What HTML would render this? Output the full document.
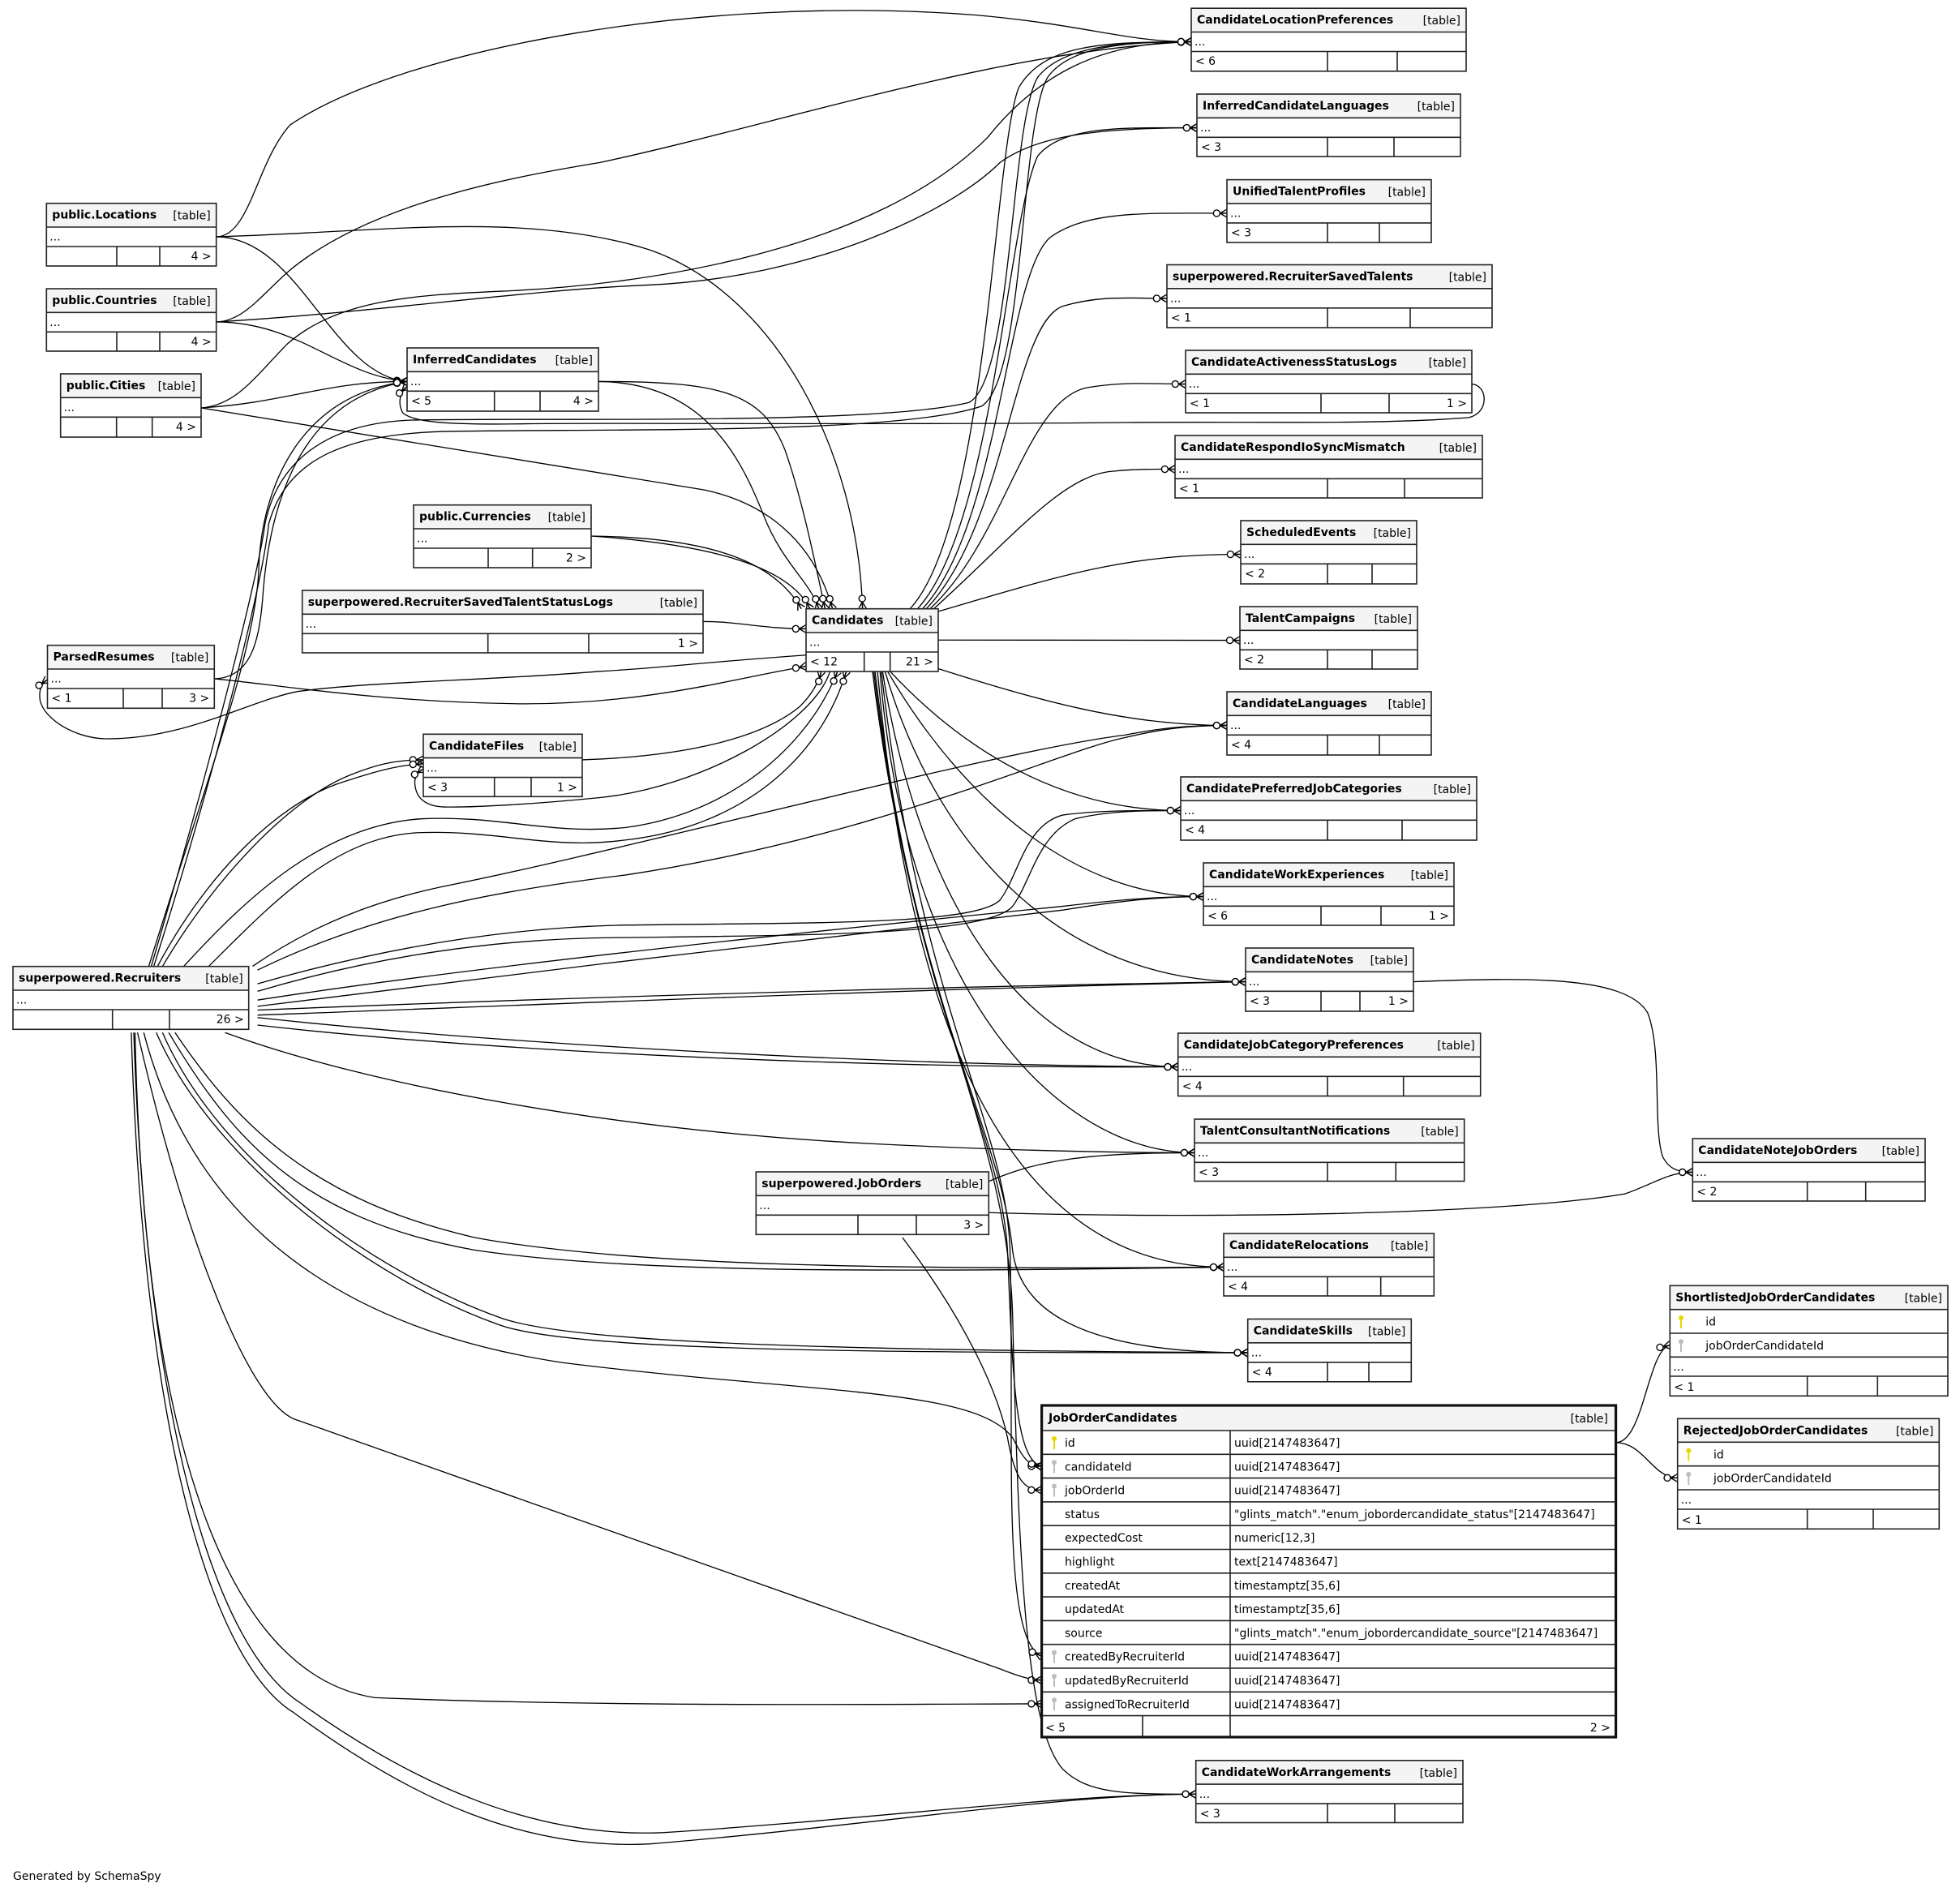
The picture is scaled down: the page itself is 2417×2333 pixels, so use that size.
<!DOCTYPE html>
<html>
<head>
<meta charset="utf-8">
<style>
html,body{margin:0;padding:0;background:#fff;}
svg{display:block;}
text{font-family:"DejaVu Sans","Liberation Sans",sans-serif;font-size:14px;fill:#000;}
.t{font-weight:bold;}
.b{stroke:#222;stroke-width:1.6;fill:none;}
.bb{stroke:#111;stroke-width:3.2;fill:none;}
.h{fill:#f4f4f4;}
.w{fill:#fff;}
.e path{fill:none;stroke:#000;stroke-width:0.85;}
</style>
</head>
<body>
<svg width="2417" height="2333" viewBox="0 0 2417 2333" xmlns="http://www.w3.org/2000/svg">
<defs>
<marker id="cf" markerUnits="userSpaceOnUse" orient="auto" refX="0" refY="0" markerWidth="20" markerHeight="20" overflow="visible">
<path d="M-5.5,0 L0,-3.2 M-5.5,0 L0,3.2 M-5.5,0 L0,0" stroke="#000" stroke-width="0.9" fill="none"/>
<circle cx="-8.2" cy="0" r="2.6" fill="#fff" stroke="#000" stroke-width="0.9"/>
</marker>
</defs>
<rect x="0" y="0" width="2417" height="2333" fill="#fff"/>

<g class="e" transform="scale(1.5415)">
<!-- Locations -->
<path d="M173.2,189.4 C200,189 205,130 232,100 C320,40 560,-5 780,12 C870,20 900,33.4 953,33.4" marker-end="url(#cf)"/>
<path d="M173.2,189.4 C300,186 420,168 520,200 C620,235 686,360 690,487" marker-end="url(#cf)"/>
<path d="M173.2,189.4 C240,190 265,300 325.7,305.2" marker-end="url(#cf)"/>
<!-- Countries -->
<path d="M173.2,257.5 C195,257 210,235 232,216 C300,160 420,140 480,130 C620,100 800,40 953,33.4" marker-end="url(#cf)"/>
<path d="M173.2,257.5 C300,250 420,232 519,228 C650,222 760,170 800,130 C830,108 880,102.2 957.5,102.2" marker-end="url(#cf)"/>
<path d="M173.2,257.5 C240,258 270,300 325.7,305.2" marker-end="url(#cf)"/>
<!-- Cities -->
<path d="M160.9,326.3 C190,324 205,300 230,275 C270,240 330,236 400,233 C520,228 700,200 790,110 C830,60 880,33.4 953,33.4" marker-end="url(#cf)"/>
<path d="M160.9,326.3 C230,322 260,305 325.7,305.2" marker-end="url(#cf)"/>
<path d="M160.9,326.3 L564,392 C610,402 650,430 666,487" marker-end="url(#cf)"/>
<!-- Currencies -->
<path d="M473,428.8 C570,430 620,450 641,487" marker-end="url(#cf)"/>
<path d="M473,428.8 C575,436 632,455 648,487" marker-end="url(#cf)"/>
<!-- InferredCandidates -->
<path d="M478.8,305.2 C560,306 590,360 610,410 C625,450 648,465 655,487" marker-end="url(#cf)"/>
<path d="M478.8,305.2 C580,305 610,315 628,360 C642,400 652,450 660,487" marker-end="url(#cf)"/>
<!-- RSTSL -->
<path d="M562.4,497.2 C590,497 610,503 644.8,503" marker-end="url(#cf)"/>
<!-- ParsedResumes -->
<path d="M171.5,543 C200,542 207,515 210,480 C214,420 232,320 325.7,305.2" marker-end="url(#cf)"/>
<path d="M171.5,543 C210,546 300,562 420,563 C520,563 590,542 644.8,533" marker-end="url(#cf)"/>
<path d="M644.8,524 C560,530 520,535 480,537 C380,545 300,545 239,553 C200,560 150,591 86,591 C60,591 35,575 32,560 C31,552 33,547 38,543.6" marker-end="url(#cf)"/>
<!-- CandidateFiles -->
<path d="M465.8,607.8 C550,605 610,590 640,565 C650,555 655,545 657,537.1" marker-end="url(#cf)"/>
<path d="M664,537.1 C650,580 560,630 480,638 C430,643 380,646 355,645.5 C340,645 333,638 332,628 C331,622 334,618 338.6,615" marker-end="url(#cf)"/>
<!-- Recruiters -->
<path d="M130,773 C170,705 230,640 280,620 C300,612 315,607.8 338.6,607.8" marker-end="url(#cf)"/>
<path d="M126,773 C165,700 220,645 270,627 C300,617 318,612 338.6,611" marker-end="url(#cf)"/>
<path d="M147,773 C200,715 260,660 337,655 C400,652 440,668 500,662 C580,652 645,600 670,537.1" marker-end="url(#cf)"/>
<path d="M167,773 C220,720 270,668 337,666 C400,664 440,680 500,672 C590,662 655,610 677,537.1" marker-end="url(#cf)"/>
<path d="M119,773 C160,640 205,520 207,455 C209,390 240,315 325.7,305.2" marker-end="url(#cf)"/>
<path d="M121,773 C160,640 205,470 212,419 C222,370 260,338 331,336 C450,334 700,340 775,322 C810,305 808,100 830,62 C850,36 900,33.4 953,33.4" marker-end="url(#cf)"/>
<path d="M123,773 C165,640 208,480 215,419 C230,365 280,346 364,345 C500,343 720,347 785,325 C820,305 816,100 838,62 C856,36 905,33.4 953,33.4" marker-end="url(#cf)"/>
<path d="M202,773 C250,740 300,720 360,708 C500,680 800,600 900,588 C930,582 950,580.3 981.5,580.3" marker-end="url(#cf)"/>
<path d="M206,776 C300,730 400,712 500,700 C700,670 850,600 900,590 C930,583 950,580.3 981.5,580.3" marker-end="url(#cf)"/>
<path d="M206,787 C300,760 400,742 500,740 C650,738 780,740 800,720 C815,700 820,660 850,652 C880,648 910,648.4 944.5,648.4" marker-end="url(#cf)"/>
<path d="M206,793 C300,765 400,750 500,750 C650,748 790,748 810,725 C825,705 830,668 860,655 C885,649 910,648.4 944.5,648.4" marker-end="url(#cf)"/>
<path d="M206,800 C400,770 700,740 850,725 C900,719 930,717.2 962.7,717.2" marker-end="url(#cf)"/>
<path d="M206,805 C400,780 700,745 850,728 C900,720 930,717.2 962.7,717.2" marker-end="url(#cf)"/>
<path d="M206,808 C400,800 700,790 996.4,785.3" marker-end="url(#cf)"/>
<path d="M206,812 C400,805 700,792 996.4,785.3" marker-end="url(#cf)"/>
<path d="M206,814 C400,835 700,852 942.4,853.4" marker-end="url(#cf)"/>
<path d="M206,820 C400,842 700,855 942.4,853.4" marker-end="url(#cf)"/>
<path d="M180,826 C300,870 500,905 700,915 C800,920 880,922.1 955.6,922.1" marker-end="url(#cf)"/>
<path d="M140,826 C190,900 250,960 380,990 C500,1012 700,1016 979,1013.6" marker-end="url(#cf)"/>
<path d="M135,826 C185,910 240,975 380,1000 C500,1018 700,1018 979,1013.6" marker-end="url(#cf)"/>
<path d="M125,826 C170,930 300,1025 400,1060 C460,1081 700,1082 998.2,1082.1" marker-end="url(#cf)"/>
<path d="M130,826 C175,930 300,1018 400,1054 C460,1076 700,1080 998.2,1082.1" marker-end="url(#cf)"/>
<path d="M115,826 C150,960 250,1060 450,1090 C650,1115 780,1110 810,1150 C818,1165 822,1172.9 833.3,1172.9" marker-end="url(#cf)"/>
<path d="M110,826 C150,1000 200,1120 235,1135 L800,1335 C815,1341 825,1343.9 833.3,1343.9" marker-end="url(#cf)"/>
<path d="M108,826 C115,1150 180,1340 300,1358 C500,1366 750,1362.9 833.3,1362.9" marker-end="url(#cf)"/>
<path d="M105,826 C115,1150 170,1330 235,1370 C330,1440 420,1480 520,1475 C700,1460 850,1435.2 956.7,1435.2" marker-end="url(#cf)"/>
<path d="M107,826 C118,1150 175,1320 240,1362 C335,1430 430,1470 530,1466 C700,1455 850,1435.2 956.7,1435.2" marker-end="url(#cf)"/>
<!-- CASL loop -->
<path d="M1177.4,307.2 C1190,308 1192,330 1175,334 C1100,340 1000,337 900,338 C700,340 500,338 420,339 C360,340 330,338 322,330 C318,322 320,314 325.7,309" marker-end="url(#cf)"/>
<!-- Candidates top-right bundle -->
<path d="M728,487 C790,420 795,120 815,70 C835,36 880,33.4 953,33.4" marker-end="url(#cf)"/>
<path d="M734,487 C795,420 805,180 830,125 C850,100 900,102.2 957.5,102.2" marker-end="url(#cf)"/>
<path d="M738,487 C800,420 805,220 840,190 C870,168 920,170.6 981.5,170.6" marker-end="url(#cf)"/>
<path d="M741,487 C805,420 810,260 850,245 C880,236 905,238.7 933.5,238.7" marker-end="url(#cf)"/>
<path d="M744,487 C805,430 820,320 870,310 C900,305 920,307.2 948.4,307.2" marker-end="url(#cf)"/>
<path d="M747,487 C810,430 850,380 890,377 C910,375 925,375.3 940,375.3" marker-end="url(#cf)"/>
<!-- Candidates right fan -->
<path d="M751,489 C850,460 900,443.4 992.5,443.4" marker-end="url(#cf)"/>
<path d="M751,512 L992,512.2" marker-end="url(#cf)"/>
<path d="M751,535 C830,560 900,580.3 981.5,580.3" marker-end="url(#cf)"/>
<path d="M712,537 C780,610 860,648.4 944.5,648.4" marker-end="url(#cf)"/>
<path d="M710,537 C770,640 860,717.2 962.7,717.2" marker-end="url(#cf)"/>
<path d="M708,537 C750,680 850,785.3 996.4,785.3" marker-end="url(#cf)"/>
<path d="M706,537 C735,720 820,853.4 942.4,853.4" marker-end="url(#cf)"/>
<path d="M704,537 C725,800 850,922.1 955.6,922.1" marker-end="url(#cf)"/>
<path d="M702,537 C730,850 820,1013.6 979,1013.6" marker-end="url(#cf)"/>
<path d="M700,537 C730,800 800,900 810,1000 C815,1040 850,1082 998.2,1082.1" marker-end="url(#cf)"/>
<path d="M699,537 C730,800 800,900 806,1000 C810,1100 812,1168 833.3,1172.9" marker-end="url(#cf)"/>
<path d="M698,537 C730,800 805,900 810,1050 C815,1250 820,1380 850,1415 C870,1435 900,1435.2 956.7,1435.2" marker-end="url(#cf)"/>
<path d="M705,537 C735,800 805,900 808,1000 C812,1150 800,1310 833.3,1324.9" marker-end="url(#cf)"/>
<!-- JobOrders -->
<path d="M791,945 C830,928 870,922.1 955.6,922.1" marker-end="url(#cf)"/>
<path d="M791,970 C950,975 1200,972 1300,955 C1325,946 1335,937.7 1354.1,937.7" marker-end="url(#cf)"/>
<path d="M722,990 C760,1040 795,1100 806,1150 C812,1185 820,1191.9 833.3,1191.9" marker-end="url(#cf)"/>
<!-- CandidateNotes -> CandidateNoteJobOrders -->
<path d="M1130.7,785.3 C1220,782 1300,780 1318,810 C1330,840 1322,900 1330,925 C1335,935 1342,937.7 1354.1,937.7" marker-end="url(#cf)"/>
<!-- JOC children -->
<path d="M1292.6,1153.9 C1315,1153.9 1318,1080 1335.9,1076" marker-end="url(#cf)"/>
<path d="M1292.6,1153.9 C1315,1154 1322,1182.2 1342,1182.2" marker-end="url(#cf)"/>
</g>

<!-- ===== Tables ===== -->
<g><rect class="w" x="1469" y="10.2" width="339" height="77.6"/><rect class="h" x="1469" y="10.2" width="339" height="29.3"/><rect class="b" x="1469" y="10.2" width="339" height="77.6"/><path class="b" d="M1469 39.5H1808M1469 63.5H1808M1637 63.5V87.8M1723 63.5V87.8"/>
<text class="t" x="1476" y="29.2">CandidateLocationPreferences</text><text x="1801" y="30.2" text-anchor="end">[table]</text><text x="1473" y="56.2">...</text><text x="1474" y="80.2">&lt; 6</text></g>
<g><rect class="w" x="1476" y="116" width="325" height="77"/><rect class="h" x="1476" y="116" width="325" height="29.3"/><rect class="b" x="1476" y="116" width="325" height="77"/><path class="b" d="M1476 145.3H1801M1476 169.3H1801M1637 169.3V193M1719 169.3V193"/>
<text class="t" x="1483" y="135">InferredCandidateLanguages</text><text x="1794" y="136" text-anchor="end">[table]</text><text x="1480" y="162">...</text><text x="1481" y="186">&lt; 3</text></g>
<g><rect class="w" x="1513" y="221.6" width="252" height="77.4"/><rect class="h" x="1513" y="221.6" width="252" height="29.3"/><rect class="b" x="1513" y="221.6" width="252" height="77.4"/><path class="b" d="M1513 250.9H1765M1513 274.9H1765M1637 274.9V299M1701 274.9V299"/>
<text class="t" x="1520" y="240.6">UnifiedTalentProfiles</text><text x="1758" y="241.6" text-anchor="end">[table]</text><text x="1517" y="267.6">...</text><text x="1518" y="291.6">&lt; 3</text></g>
<g><rect class="w" x="1439" y="326.5" width="401" height="77.5"/><rect class="h" x="1439" y="326.5" width="401" height="29.3"/><rect class="b" x="1439" y="326.5" width="401" height="77.5"/><path class="b" d="M1439 355.8H1840M1439 379.8H1840M1637 379.8V404M1739 379.8V404"/>
<text class="t" x="1446" y="345.5">superpowered.RecruiterSavedTalents</text><text x="1833" y="346.5" text-anchor="end">[table]</text><text x="1443" y="372.5">...</text><text x="1444" y="396.5">&lt; 1</text></g>
<g><rect class="w" x="1462" y="432" width="353" height="77"/><rect class="h" x="1462" y="432" width="353" height="29.3"/><rect class="b" x="1462" y="432" width="353" height="77"/><path class="b" d="M1462 461.3H1815M1462 485.3H1815M1629 485.3V509M1713 485.3V509"/>
<text class="t" x="1469" y="451">CandidateActivenessStatusLogs</text><text x="1808" y="452" text-anchor="end">[table]</text><text x="1466" y="478">...</text><text x="1467" y="502">&lt; 1</text><text x="1809" y="502" text-anchor="end">1 &gt;</text></g>
<g><rect class="w" x="1449" y="537" width="379" height="77"/><rect class="h" x="1449" y="537" width="379" height="29.3"/><rect class="b" x="1449" y="537" width="379" height="77"/><path class="b" d="M1449 566.3H1828M1449 590.3H1828M1637 590.3V614M1732 590.3V614"/>
<text class="t" x="1456" y="556">CandidateRespondIoSyncMismatch</text><text x="1821" y="557" text-anchor="end">[table]</text><text x="1453" y="583">...</text><text x="1454" y="607">&lt; 1</text></g>
<g><rect class="w" x="1530" y="642" width="217" height="78"/><rect class="h" x="1530" y="642" width="217" height="29.3"/><rect class="b" x="1530" y="642" width="217" height="78"/><path class="b" d="M1530 671.3H1747M1530 695.3H1747M1637 695.3V720M1692 695.3V720"/>
<text class="t" x="1537" y="661">ScheduledEvents</text><text x="1740" y="662" text-anchor="end">[table]</text><text x="1534" y="688">...</text><text x="1535" y="712">&lt; 2</text></g>
<g><rect class="w" x="1529" y="748" width="219" height="77"/><rect class="h" x="1529" y="748" width="219" height="29.3"/><rect class="b" x="1529" y="748" width="219" height="77"/><path class="b" d="M1529 777.3H1748M1529 801.3H1748M1637 801.3V825M1692 801.3V825"/>
<text class="t" x="1536" y="767">TalentCampaigns</text><text x="1741" y="768" text-anchor="end">[table]</text><text x="1533" y="794">...</text><text x="1534" y="818">&lt; 2</text></g>
<g><rect class="w" x="1513" y="853" width="252" height="78"/><rect class="h" x="1513" y="853" width="252" height="29.3"/><rect class="b" x="1513" y="853" width="252" height="78"/><path class="b" d="M1513 882.3H1765M1513 906.3H1765M1637 906.3V931M1701 906.3V931"/>
<text class="t" x="1520" y="872">CandidateLanguages</text><text x="1758" y="873" text-anchor="end">[table]</text><text x="1517" y="899">...</text><text x="1518" y="923">&lt; 4</text></g>
<g><rect class="w" x="1456" y="958" width="365" height="78"/><rect class="h" x="1456" y="958" width="365" height="29.3"/><rect class="b" x="1456" y="958" width="365" height="78"/><path class="b" d="M1456 987.3H1821M1456 1011.3H1821M1637 1011.3V1036M1729 1011.3V1036"/>
<text class="t" x="1463" y="977">CandidatePreferredJobCategories</text><text x="1814" y="978" text-anchor="end">[table]</text><text x="1460" y="1004">...</text><text x="1461" y="1028">&lt; 4</text></g>
<g><rect class="w" x="1484" y="1064" width="309" height="77"/><rect class="h" x="1484" y="1064" width="309" height="29.3"/><rect class="b" x="1484" y="1064" width="309" height="77"/><path class="b" d="M1484 1093.3H1793M1484 1117.3H1793M1629 1117.3V1141M1703 1117.3V1141"/>
<text class="t" x="1491" y="1083">CandidateWorkExperiences</text><text x="1786" y="1084" text-anchor="end">[table]</text><text x="1488" y="1110">...</text><text x="1489" y="1134">&lt; 6</text><text x="1787" y="1134" text-anchor="end">1 &gt;</text></g>
<g><rect class="w" x="1536" y="1169" width="207" height="78"/><rect class="h" x="1536" y="1169" width="207" height="29.3"/><rect class="b" x="1536" y="1169" width="207" height="78"/><path class="b" d="M1536 1198.3H1743M1536 1222.3H1743M1629 1222.3V1247M1677 1222.3V1247"/>
<text class="t" x="1543" y="1188">CandidateNotes</text><text x="1736" y="1189" text-anchor="end">[table]</text><text x="1540" y="1215">...</text><text x="1541" y="1239">&lt; 3</text><text x="1737" y="1239" text-anchor="end">1 &gt;</text></g>
<g><rect class="w" x="1452.7" y="1274" width="373" height="77.5"/><rect class="h" x="1452.7" y="1274" width="373" height="29.3"/><rect class="b" x="1452.7" y="1274" width="373" height="77.5"/><path class="b" d="M1452.7 1303.3H1825.7M1452.7 1327.3H1825.7M1637 1327.3V1351.5M1730.7 1327.3V1351.5"/>
<text class="t" x="1459.7" y="1293">CandidateJobCategoryPreferences</text><text x="1818.7" y="1294" text-anchor="end">[table]</text><text x="1456.7" y="1320">...</text><text x="1457.7" y="1344">&lt; 4</text></g>
<g><rect class="w" x="1473" y="1380" width="332.7" height="76.5"/><rect class="h" x="1473" y="1380" width="332.7" height="29.3"/><rect class="b" x="1473" y="1380" width="332.7" height="76.5"/><path class="b" d="M1473 1409.3H1805.7M1473 1433.3H1805.7M1637 1433.3V1456.5M1721.3 1433.3V1456.5"/>
<text class="t" x="1480" y="1399">TalentConsultantNotifications</text><text x="1798.7" y="1400" text-anchor="end">[table]</text><text x="1477" y="1426">...</text><text x="1478" y="1450">&lt; 3</text></g>
<g><rect class="w" x="1509" y="1521" width="259.3" height="77"/><rect class="h" x="1509" y="1521" width="259.3" height="29.3"/><rect class="b" x="1509" y="1521" width="259.3" height="77"/><path class="b" d="M1509 1550.3H1768.3M1509 1574.3H1768.3M1637 1574.3V1598M1702.7 1574.3V1598"/>
<text class="t" x="1516" y="1540">CandidateRelocations</text><text x="1761.3" y="1541" text-anchor="end">[table]</text><text x="1513" y="1567">...</text><text x="1514" y="1591">&lt; 4</text></g>
<g><rect class="w" x="1538.7" y="1626.5" width="201.6" height="77.3"/><rect class="h" x="1538.7" y="1626.5" width="201.6" height="29.3"/><rect class="b" x="1538.7" y="1626.5" width="201.6" height="77.3"/><path class="b" d="M1538.7 1655.8H1740.3M1538.7 1679.8H1740.3M1637 1679.8V1703.8M1688 1679.8V1703.8"/>
<text class="t" x="1545.7" y="1645.5">CandidateSkills</text><text x="1733.3" y="1646.5" text-anchor="end">[table]</text><text x="1542.7" y="1672.5">...</text><text x="1543.7" y="1696.5">&lt; 4</text></g>
<g><rect class="w" x="1474.7" y="2170.8" width="329.3" height="76.7"/><rect class="h" x="1474.7" y="2170.8" width="329.3" height="29.3"/><rect class="b" x="1474.7" y="2170.8" width="329.3" height="76.7"/><path class="b" d="M1474.7 2200.1H1804M1474.7 2224.1H1804M1637 2224.1V2247.5M1720 2224.1V2247.5"/>
<text class="t" x="1481.7" y="2189.8">CandidateWorkArrangements</text><text x="1797" y="2190.8" text-anchor="end">[table]</text><text x="1478.7" y="2216.8">...</text><text x="1479.7" y="2240.8">&lt; 3</text></g>
<g><rect class="w" x="2087.3" y="1404" width="286.7" height="77"/><rect class="h" x="2087.3" y="1404" width="286.7" height="29.3"/><rect class="b" x="2087.3" y="1404" width="286.7" height="77"/><path class="b" d="M2087.3 1433.3H2374M2087.3 1457.3H2374M2228.7 1457.3V1481M2300.7 1457.3V1481"/>
<text class="t" x="2094.3" y="1423">CandidateNoteJobOrders</text><text x="2367" y="1424" text-anchor="end">[table]</text><text x="2091.3" y="1450">...</text><text x="2092.3" y="1474">&lt; 2</text></g>
<g><rect class="w" x="57.3" y="250.7" width="209.4" height="77.3"/><rect class="h" x="57.3" y="250.7" width="209.4" height="29.3"/><rect class="b" x="57.3" y="250.7" width="209.4" height="77.3"/><path class="b" d="M57.3 280H266.7M57.3 304H266.7M144 304V328M197 304V328"/>
<text class="t" x="64.3" y="269.7">public.Locations</text><text x="259.7" y="270.7" text-anchor="end">[table]</text><text x="61.3" y="296.7">...</text><text x="260.7" y="320.7" text-anchor="end">4 &gt;</text></g>
<g><rect class="w" x="57.3" y="356" width="209.4" height="77"/><rect class="h" x="57.3" y="356" width="209.4" height="29.3"/><rect class="b" x="57.3" y="356" width="209.4" height="77"/><path class="b" d="M57.3 385.3H266.7M57.3 409.3H266.7M144 409.3V433M197 409.3V433"/>
<text class="t" x="64.3" y="375">public.Countries</text><text x="259.7" y="376" text-anchor="end">[table]</text><text x="61.3" y="402">...</text><text x="260.7" y="426" text-anchor="end">4 &gt;</text></g>
<g><rect class="w" x="74.7" y="461" width="173.3" height="78"/><rect class="h" x="74.7" y="461" width="173.3" height="29.3"/><rect class="b" x="74.7" y="461" width="173.3" height="78"/><path class="b" d="M74.7 490.3H248M74.7 514.3H248M143.7 514.3V539M187.7 514.3V539"/>
<text class="t" x="81.7" y="480">public.Cities</text><text x="241" y="481" text-anchor="end">[table]</text><text x="78.7" y="507">...</text><text x="242" y="531" text-anchor="end">4 &gt;</text></g>
<g><rect class="w" x="502" y="429" width="236" height="78"/><rect class="h" x="502" y="429" width="236" height="29.3"/><rect class="b" x="502" y="429" width="236" height="78"/><path class="b" d="M502 458.3H738M502 482.3H738M609.7 482.3V507M666 482.3V507"/>
<text class="t" x="509" y="448">InferredCandidates</text><text x="731" y="449" text-anchor="end">[table]</text><text x="506" y="475">...</text><text x="507" y="499">&lt; 5</text><text x="732" y="499" text-anchor="end">4 &gt;</text></g>
<g><rect class="w" x="510" y="622.7" width="219" height="77.3"/><rect class="h" x="510" y="622.7" width="219" height="29.3"/><rect class="b" x="510" y="622.7" width="219" height="77.3"/><path class="b" d="M510 652H729M510 676H729M602 676V700M656.7 676V700"/>
<text class="t" x="517" y="641.7">public.Currencies</text><text x="722" y="642.7" text-anchor="end">[table]</text><text x="514" y="668.7">...</text><text x="723" y="692.7" text-anchor="end">2 &gt;</text></g>
<g><rect class="w" x="372.7" y="728" width="494.3" height="77"/><rect class="h" x="372.7" y="728" width="494.3" height="29.3"/><rect class="b" x="372.7" y="728" width="494.3" height="77"/><path class="b" d="M372.7 757.3H867M372.7 781.3H867M601.7 781.3V805M726 781.3V805"/>
<text class="t" x="379.7" y="747">superpowered.RecruiterSavedTalentStatusLogs</text><text x="860" y="748" text-anchor="end">[table]</text><text x="376.7" y="774">...</text><text x="861" y="798" text-anchor="end">1 &gt;</text></g>
<g><rect class="w" x="58.5" y="795.7" width="205.8" height="77.6"/><rect class="h" x="58.5" y="795.7" width="205.8" height="29.3"/><rect class="b" x="58.5" y="795.7" width="205.8" height="77.6"/><path class="b" d="M58.5 825H264.3M58.5 849H264.3M152 849V873.3M200 849V873.3"/>
<text class="t" x="65.5" y="814.7">ParsedResumes</text><text x="257.3" y="815.7" text-anchor="end">[table]</text><text x="62.5" y="841.7">...</text><text x="63.5" y="865.7">&lt; 1</text><text x="258.3" y="865.7" text-anchor="end">3 &gt;</text></g>
<g><rect class="w" x="994" y="750.7" width="163" height="77.3"/><rect class="h" x="994" y="750.7" width="163" height="29.3"/><rect class="b" x="994" y="750.7" width="163" height="77.3"/><path class="b" d="M994 780H1157M994 804H1157M1065.7 804V828M1097.7 804V828"/>
<text class="t" x="1001" y="769.7">Candidates</text><text x="1150" y="770.7" text-anchor="end">[table]</text><text x="998" y="796.7">...</text><text x="999" y="820.7">&lt; 12</text><text x="1151" y="820.7" text-anchor="end">21 &gt;</text></g>
<g><rect class="w" x="522" y="905.3" width="196" height="77"/><rect class="h" x="522" y="905.3" width="196" height="29.3"/><rect class="b" x="522" y="905.3" width="196" height="77"/><path class="b" d="M522 934.6H718M522 958.6H718M609.7 958.6V982.3M655 958.6V982.3"/>
<text class="t" x="529" y="924.3">CandidateFiles</text><text x="711" y="925.3" text-anchor="end">[table]</text><text x="526" y="951.3">...</text><text x="527" y="975.3">&lt; 3</text><text x="712" y="975.3" text-anchor="end">1 &gt;</text></g>
<g><rect class="w" x="16" y="1191.7" width="290.7" height="77.6"/><rect class="h" x="16" y="1191.7" width="290.7" height="29.3"/><rect class="b" x="16" y="1191.7" width="290.7" height="77.6"/><path class="b" d="M16 1221H306.7M16 1245H306.7M138.7 1245V1269.3M209 1245V1269.3"/>
<text class="t" x="23" y="1210.7">superpowered.Recruiters</text><text x="299.7" y="1211.7" text-anchor="end">[table]</text><text x="20" y="1237.7">...</text><text x="300.7" y="1261.7" text-anchor="end">26 &gt;</text></g>
<g><rect class="w" x="932.3" y="1445" width="287" height="77.3"/><rect class="h" x="932.3" y="1445" width="287" height="29.3"/><rect class="b" x="932.3" y="1445" width="287" height="77.3"/><path class="b" d="M932.3 1474.3H1219.3M932.3 1498.3H1219.3M1058 1498.3V1522.3M1130 1498.3V1522.3"/>
<text class="t" x="939.3" y="1464">superpowered.JobOrders</text><text x="1212.3" y="1465" text-anchor="end">[table]</text><text x="936.3" y="1491">...</text><text x="1213.3" y="1515" text-anchor="end">3 &gt;</text></g>

<g>
<rect class="w" x="1284.6" y="1733" width="708" height="409"/>
<rect class="h" x="1284.6" y="1733" width="708" height="31"/>
<path class="b" d="M1284.6 1764H1992.6M1284.6 1793.3H1992.6M1284.6 1822.6H1992.6M1284.6 1851.9H1992.6M1284.6 1881.2H1992.6M1284.6 1910.5H1992.6M1284.6 1939.8H1992.6M1284.6 1969.1H1992.6M1284.6 1998.4H1992.6M1284.6 2027.7H1992.6M1284.6 2057H1992.6M1284.6 2086.3H1992.6M1284.6 2115.6H1992.6M1517 1764V2142M1409 2115.6V2142"/>
<rect class="bb" x="1284.6" y="1733" width="708" height="409"/>
<text class="t" x="1293" y="1753">JobOrderCandidates</text><text x="1983" y="1754" text-anchor="end">[table]</text>
<g fill="#e6d800"><circle cx="1300" cy="1774" r="3"/><rect x="1299" y="1775" width="2" height="12"/></g>
<g fill="#bdbdbd">
<circle cx="1300" cy="1803.3" r="3"/><rect x="1299" y="1804.3" width="2" height="12"/>
<circle cx="1300" cy="1832.6" r="3"/><rect x="1299" y="1833.6" width="2" height="12"/>
<circle cx="1300" cy="2037.7" r="3"/><rect x="1299" y="2038.7" width="2" height="12"/>
<circle cx="1300" cy="2067" r="3"/><rect x="1299" y="2068" width="2" height="12"/>
<circle cx="1300" cy="2096.3" r="3"/><rect x="1299" y="2097.3" width="2" height="12"/>
</g>
<text x="1313" y="1784">id</text><text x="1522" y="1784">uuid[2147483647]</text>
<text x="1313" y="1813.3">candidateId</text><text x="1522" y="1813.3">uuid[2147483647]</text>
<text x="1313" y="1842.6">jobOrderId</text><text x="1522" y="1842.6">uuid[2147483647]</text>
<text x="1313" y="1871.9">status</text><text x="1522" y="1871.9">"glints_match"."enum_jobordercandidate_status"[2147483647]</text>
<text x="1313" y="1901.2">expectedCost</text><text x="1522" y="1901.2">numeric[12,3]</text>
<text x="1313" y="1930.5">highlight</text><text x="1522" y="1930.5">text[2147483647]</text>
<text x="1313" y="1959.8">createdAt</text><text x="1522" y="1959.8">timestamptz[35,6]</text>
<text x="1313" y="1989.1">updatedAt</text><text x="1522" y="1989.1">timestamptz[35,6]</text>
<text x="1313" y="2018.4">source</text><text x="1522" y="2018.4">"glints_match"."enum_jobordercandidate_source"[2147483647]</text>
<text x="1313" y="2047.7">createdByRecruiterId</text><text x="1522" y="2047.7">uuid[2147483647]</text>
<text x="1313" y="2077">updatedByRecruiterId</text><text x="1522" y="2077">uuid[2147483647]</text>
<text x="1313" y="2106.3">assignedToRecruiterId</text><text x="1522" y="2106.3">uuid[2147483647]</text>
<text x="1289" y="2135">&lt; 5</text><text x="1986" y="2135" text-anchor="end">2 &gt;</text>
</g>

<g>
<rect class="w" x="2059.3" y="1585.3" width="342.7" height="136"/>
<rect class="h" x="2059.3" y="1585.3" width="342.7" height="29.4"/>
<rect class="b" x="2059.3" y="1585.3" width="342.7" height="136"/>
<path class="b" d="M2059.3 1614.7H2402M2059.3 1644H2402M2059.3 1673.3H2402M2059.3 1697H2402M2228.7 1697V1721.3M2315.3 1697V1721.3"/>
<text class="t" x="2066.3" y="1604.5">ShortlistedJobOrderCandidates</text><text x="2395" y="1605.5" text-anchor="end">[table]</text>
<g fill="#e6d800"><circle cx="2073" cy="1625" r="3"/><rect x="2072" y="1626" width="2" height="12"/></g>
<g fill="#bdbdbd"><circle cx="2073" cy="1654.3" r="3"/><rect x="2072" y="1655.3" width="2" height="12"/></g>
<text x="2103.3" y="1634.7">id</text>
<text x="2103.3" y="1664">jobOrderCandidateId</text>
<text x="2063.3" y="1690">...</text>
<text x="2064.3" y="1715">&lt; 1</text>
</g>
<g>
<rect class="w" x="2068.7" y="1749.3" width="322.6" height="136"/>
<rect class="h" x="2068.7" y="1749.3" width="322.6" height="29"/>
<rect class="b" x="2068.7" y="1749.3" width="322.6" height="136"/>
<path class="b" d="M2068.7 1778.3H2391.3M2068.7 1807.7H2391.3M2068.7 1837H2391.3M2068.7 1861H2391.3M2228.7 1861V1885.3M2310 1861V1885.3"/>
<text class="t" x="2075.7" y="1768.5">RejectedJobOrderCandidates</text><text x="2384.3" y="1769.5" text-anchor="end">[table]</text>
<g fill="#e6d800"><circle cx="2082.3" cy="1788.6" r="3"/><rect x="2081.3" y="1789.6" width="2" height="12"/></g>
<g fill="#bdbdbd"><circle cx="2082.3" cy="1818" r="3"/><rect x="2081.3" y="1819" width="2" height="12"/></g>
<text x="2113" y="1798.3">id</text>
<text x="2113" y="1827.7">jobOrderCandidateId</text>
<text x="2072.7" y="1854">...</text>
<text x="2073.7" y="1879">&lt; 1</text>
</g>

<text x="16" y="2318">Generated by SchemaSpy</text>
</svg>
</body>
</html>
